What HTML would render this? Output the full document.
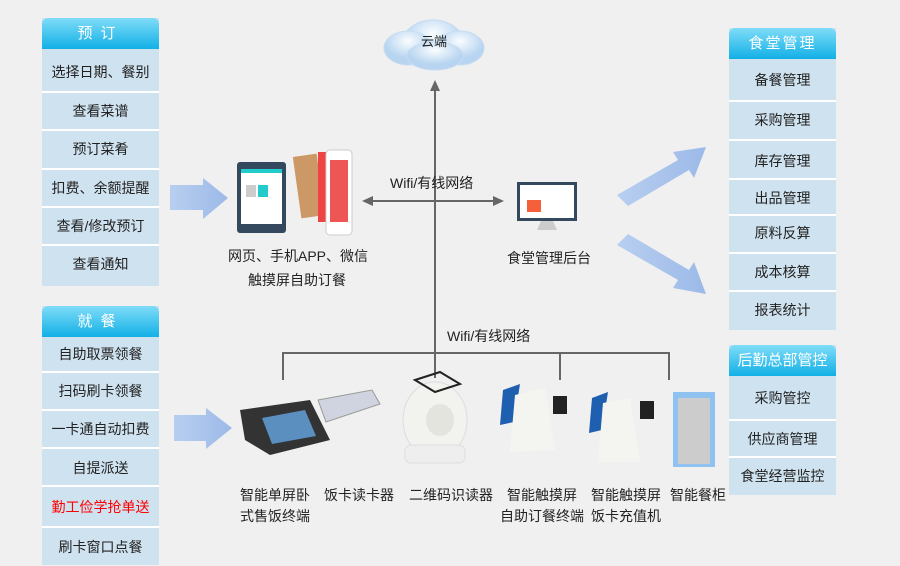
<!DOCTYPE html>
<html><head><meta charset="utf-8">
<style>
*{margin:0;padding:0;box-sizing:border-box}
body{width:900px;height:565px;background:#f0f0f0;position:relative;overflow:hidden;font-family:"Liberation Sans","Noto Sans CJK SC",sans-serif;font-size:14px;color:#222}
.p{position:absolute;background:#cfe2ef}
.h{position:absolute;left:0;right:0;top:0;background:linear-gradient(#7fdcf8,#12b0e6);color:#fff;text-align:center;border-radius:6px 6px 0 0;font-size:15px}
.r{position:absolute;left:0;right:0;text-align:center;border-top:2px solid #fff}
.t{position:absolute;white-space:nowrap}
</style></head><body>
<svg width="900" height="565" style="position:absolute;left:0;top:0">
<defs><linearGradient id="ag" x1="0" x2="1"><stop offset="0" stop-color="#b8cff0"/><stop offset="1" stop-color="#9cb9e8"/></linearGradient>
<radialGradient id="cg" cx="0.5" cy="0.3"><stop offset="0" stop-color="#fafdff"/><stop offset="1" stop-color="#b7d4f0"/></radialGradient></defs>
<polygon points="170,185 203,185 203,178 228,198 203,219 203,210 170,210" fill="url(#ag)"/>
<polygon points="174,415 206,415 206,408 232,428 206,449 206,441 174,441" fill="url(#ag)"/>
<polygon points="617,195 678,160 673,152 706,147 694,178 689,170 628,206" fill="url(#ag)"/>
<polygon points="617,245 628,234 689,270 694,262 706,294 673,288 678,280" fill="url(#ag)"/>
<g fill="url(#cg)" stroke="#c5dcf2">
<ellipse cx="433" cy="42" rx="30" ry="22"/><ellipse cx="408" cy="48" rx="24" ry="17"/><ellipse cx="460" cy="48" rx="24" ry="17"/><ellipse cx="435" cy="56" rx="28" ry="14"/></g>
<g stroke="#666" stroke-width="2" fill="none">
<line x1="435" y1="88" x2="435" y2="378"/>
<line x1="368" y1="201" x2="498" y2="201"/>
<polyline points="283,380 283,353 669,353 669,380"/>
<line x1="560" y1="353" x2="560" y2="380"/>
</g>
<g fill="#666"><polygon points="435,80 430,91 440,91"/><polygon points="362,201 373,196 373,206"/><polygon points="504,201 493,196 493,206"/></g>
<!-- tablet -->
<rect x="237" y="162" width="49" height="71" rx="3" fill="#34495e"/><rect x="241" y="169" width="41" height="55" fill="#fff"/><rect x="241" y="169" width="41" height="4" fill="#2cc"/><rect x="246" y="185" width="10" height="12" fill="#ccc"/><rect x="258" y="185" width="10" height="12" fill="#2cc"/>
<rect x="297" y="155" width="24" height="62" fill="#c96" transform="rotate(-8 309 186)"/><rect x="318" y="152" width="20" height="70" fill="#e44"/><rect x="326" y="150" width="26" height="85" rx="4" fill="#fff" stroke="#ccc"/><rect x="330" y="160" width="18" height="62" fill="#e55"/>
<!-- monitor -->
<rect x="517" y="182" width="60" height="39" fill="#34495e"/><rect x="520" y="185" width="54" height="33" fill="#fff"/><rect x="527" y="200" width="14" height="12" fill="#f5603a"/><polygon points="541,221 553,221 557,230 537,230" fill="#ccc"/>
<!-- devices -->
<polygon points="240,410 310,400 330,440 270,455 245,440" fill="#333"/><polygon points="262,418 305,410 316,436 272,444" fill="#5a8fc0"/>
<polygon points="318,400 372,390 380,404 326,422" fill="#cfd4e0" stroke="#999"/>
<ellipse cx="435" cy="420" rx="32" ry="38" fill="#f2f2ee" stroke="#ddd"/><ellipse cx="440" cy="420" rx="14" ry="16" fill="#e4e4de"/><rect x="405" y="445" width="60" height="18" rx="6" fill="#eee" stroke="#ddd"/>
<polygon points="415,380 440,372 460,384 435,392" fill="none" stroke="#222" stroke-width="2"/>
<polygon points="503,390 520,384 514,422 500,425" fill="#1f5fb0"/><path d="M515,395 L545,388 L555,450 L510,452 Z" fill="#f4f4f0"/><rect x="553" y="396" width="14" height="18" fill="#222"/>
<polygon points="592,398 608,392 602,430 589,433" fill="#1f5fb0"/><path d="M603,403 L630,398 L640,462 L598,462 Z" fill="#f4f4f0"/><rect x="640" y="401" width="14" height="18" fill="#222"/>
<rect x="673" y="392" width="42" height="75" fill="#8fc2f0"/><rect x="678" y="398" width="32" height="66" fill="#ccc"/>
</svg>
<div class="t" style="left:421px;top:31px;font-size:13px">云端</div>
<div class="t" style="left:390px;top:173px">Wifi/有线网络</div>
<div class="t" style="left:447px;top:326px">Wifi/有线网络</div>
<div class="t" style="left:228px;top:246px">网页、手机APP、微信</div>
<div class="t" style="left:248px;top:270px">触摸屏自助订餐</div>
<div class="t" style="left:507px;top:248px">食堂管理后台</div>
<div class="t" style="left:240px;top:485px;line-height:21px">智能单屏卧<br>式售饭终端</div>
<div class="t" style="left:324px;top:485px">饭卡读卡器</div>
<div class="t" style="left:409px;top:485px">二维码识读器</div>
<div class="t" style="left:500px;top:485px;line-height:21px;text-align:center">智能触摸屏<br>自助订餐终端</div>
<div class="t" style="left:591px;top:485px;line-height:21px">智能触摸屏<br>饭卡充值机</div>
<div class="t" style="left:670px;top:485px">智能餐柜</div>

<div class="p" style="left:42px;top:18px;width:117px;height:268px">
<div class="h" style="height:31px;line-height:31px;letter-spacing:8px">预订</div>
<div class="r" style="top:31px;height:42px;line-height:46px;border:0">选择日期、餐别</div>
<div class="r" style="top:73px;height:38px;line-height:36px">查看菜谱</div>
<div class="r" style="top:111px;height:39px;line-height:37px">预订菜肴</div>
<div class="r" style="top:150px;height:38px;line-height:36px">扣费、余额提醒</div>
<div class="r" style="top:188px;height:38px;line-height:36px">查看/修改预订</div>
<div class="r" style="top:226px;height:42px;line-height:36px">查看通知</div>
</div>
<div class="p" style="left:42px;top:306px;width:117px;height:259px">
<div class="h" style="height:31px;line-height:31px;letter-spacing:8px">就餐</div>
<div class="r" style="top:31px;height:34px;line-height:34px;border:0">自助取票领餐</div>
<div class="r" style="top:65px;height:38px;line-height:36px">扫码刷卡领餐</div>
<div class="r" style="top:103px;height:38px;line-height:36px">一卡通自动扣费</div>
<div class="r" style="top:141px;height:38px;line-height:38px">自提派送</div>
<div class="r" style="top:179px;height:41px;line-height:41px;color:#f00">勤工俭学抢单送</div>
<div class="r" style="top:220px;height:40px;line-height:38px">刷卡窗口点餐</div>
</div>
<div class="p" style="left:729px;top:28px;width:107px;height:302px">
<div class="h" style="height:31px;line-height:31px;letter-spacing:2px">食堂管理</div>
<div class="r" style="top:31px;height:41px;line-height:42px;border:0">备餐管理</div>
<div class="r" style="top:72px;height:39px;line-height:36px">采购管理</div>
<div class="r" style="top:111px;height:39px;line-height:40px">库存管理</div>
<div class="r" style="top:150px;height:36px;line-height:36px">出品管理</div>
<div class="r" style="top:186px;height:38px;line-height:34px">原料反算</div>
<div class="r" style="top:224px;height:38px;line-height:36px">成本核算</div>
<div class="r" style="top:262px;height:40px;line-height:36px">报表统计</div>
</div>
<div class="p" style="left:729px;top:345px;width:107px;height:150px">
<div class="h" style="height:31px;line-height:31px">后勤总部管控</div>
<div class="r" style="top:31px;height:43px;line-height:44px;border:0">采购管控</div>
<div class="r" style="top:74px;height:37px;line-height:36px">供应商管理</div>
<div class="r" style="top:111px;height:39px;line-height:36px">食堂经营监控</div>
</div>
</body></html>
